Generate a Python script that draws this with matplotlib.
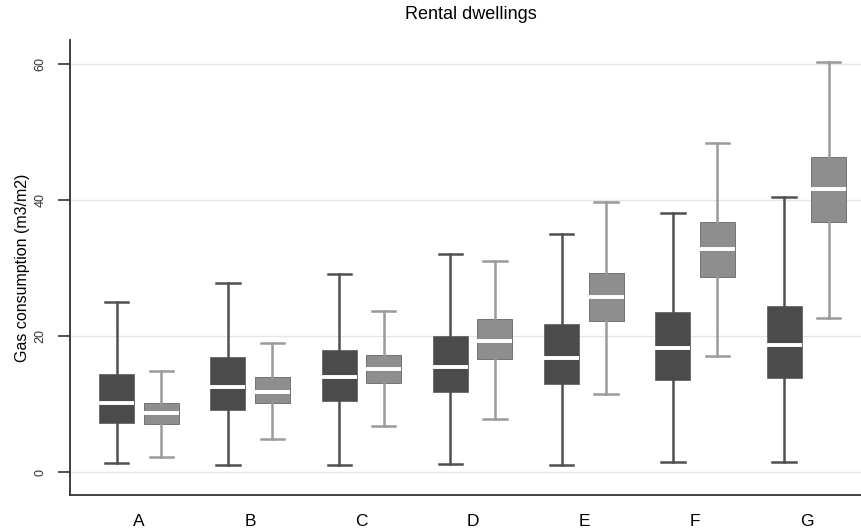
import numpy as np
from matplotlib import pyplot as plt
#
plt.rcParams['font.family']=['Liberation Sans','DejaVu Sans']
#
CATS=['A','B','C','D','E','F','G']
# dark series: whisker low, q1, median, q3, whisker high
DARK_LO=[1.3,1.1,1.0,1.2,1.1,1.4,1.4]
DARK_Q1=[7.25,9.1,10.4,11.8,12.9,13.5,13.8]
DARK_MED=[10.2,12.5,13.9,15.4,16.8,18.2,18.7]
DARK_Q3=[14.4,16.9,17.9,20.05,21.8,23.5,24.4]
DARK_HI=[25.0,27.8,29.1,32.1,34.95,38.1,40.4]
# light series
LIGHT_LO=[2.25,4.85,6.7,7.85,11.5,17.0,22.6]
LIGHT_Q1=[7.0,10.2,13.1,16.6,22.2,28.7,36.7]
LIGHT_MED=[8.6,11.7,15.2,19.3,25.7,32.75,41.6]
LIGHT_Q3=[10.1,13.9,17.25,22.45,29.2,36.7,46.3]
LIGHT_HI=[14.85,18.9,23.6,31.0,39.7,48.3,60.3]
#
DARK_C='#4b4b4b'
LIGHT_C='#8e8e8e'
#
def stats(lo,q1,med,q3,hi):
    return [{'whislo':a,'q1':b,'med':c,'q3':d,'whishi':e,'fliers':[]}
            for a,b,c,d,e in zip(lo,q1,med,q3,hi)]
#
def draw(ax,st,pos,col,wcol):
    ax.bxp(st,positions=pos,widths=0.315,patch_artist=True,showfliers=False,
           boxprops=dict(facecolor=col,edgecolor='#666666',linewidth=0.6),
           medianprops=dict(color='white',linewidth=2.8),
           whiskerprops=dict(color=wcol,linewidth=1.8),
           capprops=dict(color=wcol,linewidth=1.8),
           capwidths=0.21)
#
fig=plt.figure(figsize=(8.62,5.31),dpi=100)
ax=fig.add_axes([0.0812,0.0678,0.9188,0.8569])
x=np.arange(1,len(CATS)+1)
for v in [0,20,40,60]:
    ax.axhline(v,color='#e6e6e6',linewidth=1,zorder=0)
draw(ax,stats(DARK_LO,DARK_Q1,DARK_MED,DARK_Q3,DARK_HI),x-0.2,DARK_C,'#505050')
draw(ax,stats(LIGHT_LO,LIGHT_Q1,LIGHT_MED,LIGHT_Q3,LIGHT_HI),x+0.2,LIGHT_C,'#9a9a9a')
ax.set_xlim(0.38,7.5)
ax.set_ylim(-3.38,63.5)
ax.set_xticks(x)
ax.set_xticklabels(CATS,fontsize=12.5)
ax.tick_params(axis='x',length=0,pad=14)
ax.set_yticks([0,20,40,60])
ax.set_yticklabels(['0','20','40','60'],fontsize=9,rotation=90,va='center')
ax.tick_params(axis='y',length=9,width=1.2,direction='out',pad=8,colors='#333333')
for s in ['top','right']:
    ax.spines[s].set_visible(False)
for s in ['left','bottom']:
    ax.spines[s].set_linewidth(1.3)
    ax.spines[s].set_color('#333333')
ax.set_ylabel('Gas consumption (m3/m2)',fontsize=11.5,labelpad=3)
fig.text(0.546,0.972,'Rental dwellings',fontsize=13,ha='center',va='center')
fig.savefig('out.png',dpi=100)
